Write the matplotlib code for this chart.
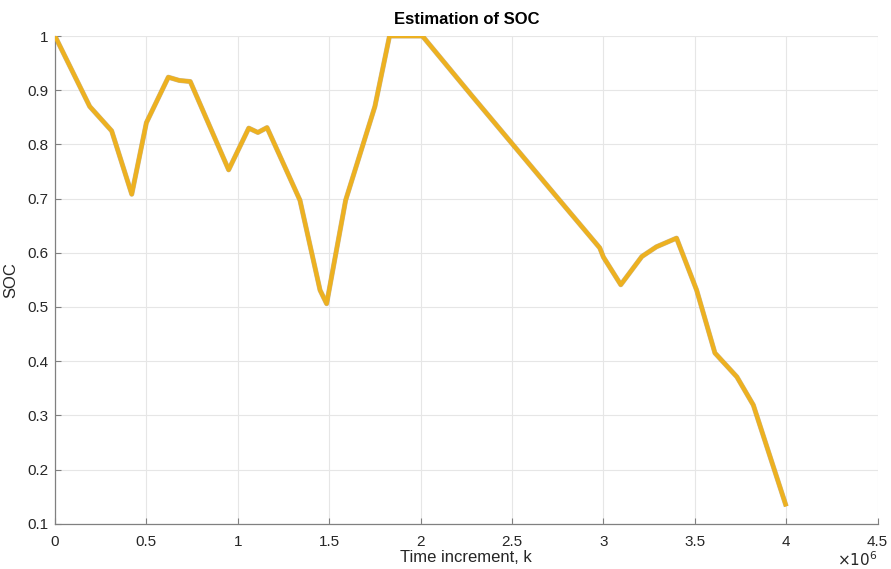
import matplotlib
matplotlib.use("Agg")
import matplotlib.pyplot as plt

plt.rcParams['font.family'] = ['Liberation Sans', 'DejaVu Sans']

# SOC estimate over time (time in units of 1e6 increments)
time_k = [0.0, 0.19, 0.31, 0.42, 0.50, 0.62, 0.68, 0.74, 0.95, 1.06, 1.11, 1.16,
          1.34, 1.45, 1.486, 1.59, 1.75, 1.83, 2.01, 2.28, 2.76, 2.98, 3.0,
          3.095, 3.21, 3.29, 3.40, 3.51, 3.61, 3.73, 3.82, 4.0]
soc = [1.0, 0.870, 0.825, 0.708, 0.840, 0.924, 0.918, 0.916, 0.753, 0.830, 0.822, 0.831,
       0.697, 0.531, 0.506, 0.697, 0.870, 1.0, 1.0, 0.890, 0.697, 0.609, 0.592,
       0.541, 0.593, 0.611, 0.627, 0.531, 0.415, 0.371, 0.319, 0.132]

x_ticks = [0, 0.5, 1, 1.5, 2, 2.5, 3, 3.5, 4, 4.5]
x_tick_labels = ['0', '0.5', '1', '1.5', '2', '2.5', '3', '3.5', '4', '4.5']
y_ticks = [0.1, 0.2, 0.3, 0.4, 0.5, 0.6, 0.7, 0.8, 0.9, 1.0]
y_tick_labels = ['0.1', '0.2', '0.3', '0.4', '0.5', '0.6', '0.7', '0.8', '0.9', '1']

fig = plt.figure(figsize=(8.91, 5.69), dpi=100)
ax = fig.add_axes([0.0617, 0.0796, 0.9233, 0.8571])

ax.plot(time_k, soc, color='#a08040', lw=3.6, alpha=0.55,
        solid_joinstyle='round', solid_capstyle='butt', zorder=2)
ax.plot(time_k, soc, color='#EDB120', lw=3.0,
        solid_joinstyle='round', solid_capstyle='butt', zorder=3)

ax.set_xlim(0, 4.5)
ax.set_ylim(0.1, 1.0)
ax.set_xticks(x_ticks)
ax.set_xticklabels(x_tick_labels)
ax.set_yticks(y_ticks)
ax.set_yticklabels(y_tick_labels)

ax.grid(True, color='#e6e6e6', lw=0.8)
ax.set_axisbelow(True)
for side in ('top', 'right'):
    ax.spines[side].set_visible(False)
for side in ('left', 'bottom'):
    ax.spines[side].set_color('#808080')
    ax.spines[side].set_linewidth(0.9)
ax.tick_params(direction='in', length=4, color='#808080', labelsize=11,
               labelcolor='#262626', width=0.8)
ax.tick_params(axis='x', pad=8)
ax.tick_params(axis='y', pad=5)

ax.set_xlabel('Time increment, k', fontsize=12, color='#262626', labelpad=1)
ax.set_ylabel('SOC', fontsize=12, color='#262626', labelpad=6)
ax.set_title('Estimation of SOC', fontsize=12, fontweight='bold', pad=9)

ax.text(1.0, -0.055, r'$\times10^{6}$', transform=ax.transAxes, ha='right', va='top',
        fontsize=11, color='#262626')

fig.savefig('out.png', dpi=100)
